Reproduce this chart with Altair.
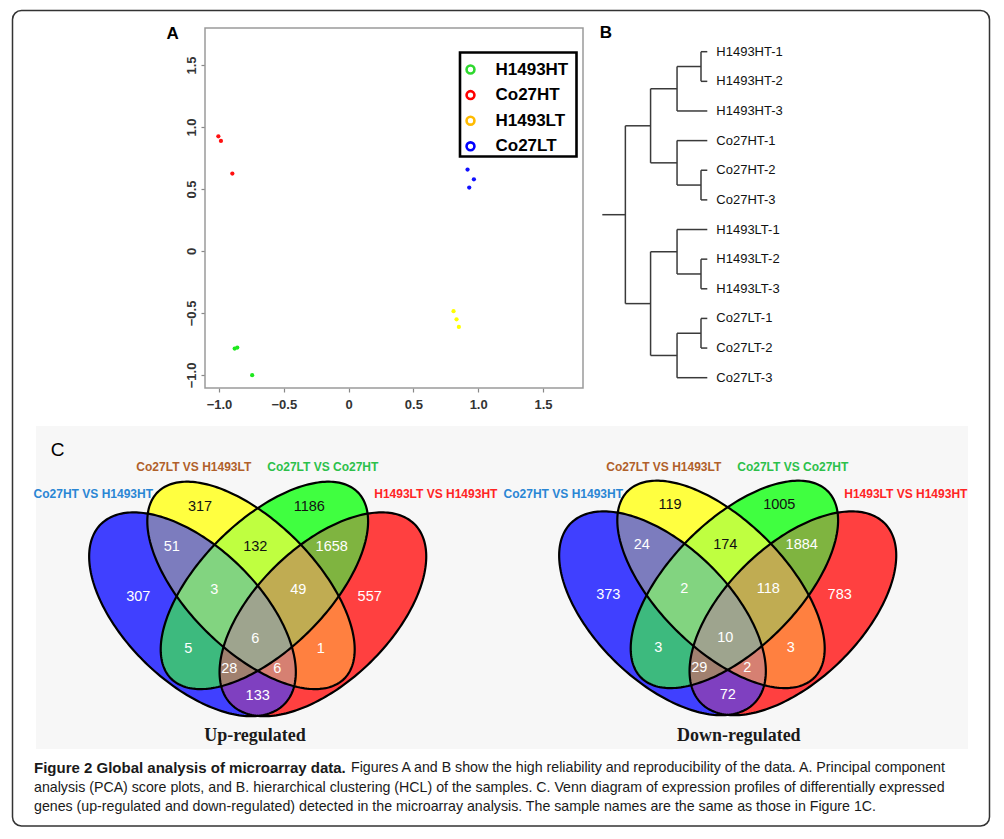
import numpy as np
import pandas as pd
import altair as alt

# ------------------------------------------------------------------ DATA
# Panel A: PCA scores
pca_group = ["Co27HT"] * 3 + ["Co27LT"] * 3 + ["H1493LT"] * 3 + ["H1493HT"] * 3
pca_pc1 = [-1.005, -0.985, -0.897, 0.918, 0.967, 0.931, 0.810, 0.833, 0.851, -0.879, -0.859, -0.744]
pca_pc2 = [0.925, 0.887, 0.624, 0.656, 0.578, 0.511, -0.486, -0.551, -0.613, -0.787, -0.779, -1.002]
pca_ticks = [-1.0, -0.5, 0.0, 0.5, 1.0, 1.5]
legend_groups = ["H1493HT", "Co27HT", "H1493LT", "Co27LT"]

# Panel B: hierarchical clustering
leaf_labels = ["H1493HT-1", "H1493HT-2", "H1493HT-3", "Co27HT-1", "Co27HT-2", "Co27HT-3",
               "H1493LT-1", "H1493LT-2", "H1493LT-3", "Co27LT-1", "Co27LT-2", "Co27LT-3"]
# (child a, child b, merge height); leaves 0..11, merged nodes numbered 12, 13, ...
merges = [(0, 1, 0.05), (12, 2, 0.24), (4, 5, 0.05), (3, 14, 0.24), (13, 15, 0.45),
          (7, 8, 0.05), (6, 17, 0.24), (9, 10, 0.05), (19, 11, 0.24), (18, 20, 0.45),
          (16, 21, 0.65)]
root_stem = 0.833

# Panel C: Venn counts; region keys = membership in (Blue, Yellow, Green, Red) sets
set_names = ["Co27HT VS H1493HT", "Co27LT VS H1493LT", "Co27LT VS Co27HT", "H1493LT VS H1493HT"]
region_keys = ["1000", "0100", "0010", "0001", "1100", "0110", "0011", "1110",
               "0111", "1111", "1010", "0101", "1011", "1101", "1001"]
up_counts = [307, 317, 1186, 557, 51, 132, 1658, 3, 49, 6, 5, 1, 28, 6, 133]
down_counts = [373, 119, 1005, 783, 24, 174, 1884, 2, 118, 10, 3, 3, 29, 2, 72]
venn_titles = ["Up-regulated", "Down-regulated"]

caption_bold = "Figure 2 Global analysis of microarray data."
caption_lines = [
    "Figures A and B show the high reliability and reproducibility of the data. A. Principal component",
    "analysis (PCA) score plots, and B. hierarchical clustering (HCL) of the samples. C. Venn diagram of expression profiles of differentially expressed",
    "genes (up-regulated and down-regulated) detected in the microarray analysis. The sample names are the same as those in Figure 1C.",
]

# ------------------------------------------------------------------ STYLE / LAYOUT
W, H = 988, 823
OX, OY = 8, 8
FONT = "Liberation Sans"
point_colors = {"H1493HT": "#1ee81e", "Co27HT": "#ff1010", "H1493LT": "#ffff00", "Co27LT": "#1010ff"}
legend_colors = ["#2ed82e", "#ff0000", "#ffbb00", "#0000ff"]
set_colors = ["#2a86d4", "#b0602a", "#2cc04a", "#ff2424"]
region_fill = {"1000": "#4040ff", "0100": "#ffff40", "0010": "#40ff40", "0001": "#ff4040",
               "1100": "#7c7cbe", "0110": "#bfff40", "0011": "#7fb440", "1110": "#82d480",
               "0111": "#c0ac52", "1111": "#9ea48e", "1010": "#3dba7e", "0101": "#ff8040",
               "1011": "#a0806f", "1101": "#d68072", "1001": "#7f40c0"}
dark_text_regions = {"0100", "0010", "0110"}
# ellipse geometry of the left diagram (pixels): centre x, centre y, semi-major, semi-minor, angle
VENN_CX = 257.7
ell_blue = (192.5, 614.3, 128.5, 67.5, np.radians(44.3))
ell_yellow = (251.0, 585.4, 131.9, 64.1, np.radians(45.0))


def CX(f):
    return alt.X(f"{f}:Q", scale=alt.Scale(domain=[OX, OX + W], range=[0, W], nice=False, zero=False), axis=None)


def CY(f):
    return alt.Y(f"{f}:Q", scale=alt.Scale(domain=[OY, OY + H], range=[0, H], nice=False, zero=False), axis=None)


def text_layer(df, color=None, **mk):
    enc = dict(x=CX("x"), y=CY("y"), text="t:N")
    if color is None:
        enc["color"] = alt.Color("c:N", scale=None)
        ch = alt.Chart(df).mark_text(**mk)
    else:
        ch = alt.Chart(df).mark_text(color=color, **mk)
    return ch.encode(**enc)


layers = []

# outer rounded frame
layers.append(alt.Chart(pd.DataFrame({"a": [0]})).mark_rect(
    fillOpacity=0, stroke="#333333", strokeWidth=1.5, cornerRadius=9).encode(
    x=alt.value(4.5), x2=alt.value(981.5), y=alt.value(2.5), y2=alt.value(818)))

# panel C background
layers.append(alt.Chart(pd.DataFrame({"x": [36], "x2": [968], "y": [426], "y2": [749]})).mark_rect(
    fill="#f7f7f7").encode(x=CX("x"), x2=alt.X2("x2"), y=CY("y"), y2=alt.Y2("y2")))

# ---------------- Panel A: PCA
PX0, PX1, PY0, PY1 = -1.108, 1.809, -1.105, 1.798
PXS = alt.Scale(domain=[PX0, PX1], range=[197, 575], nice=False, zero=False)
PYS = alt.Scale(domain=[PY0, PY1], range=[380, 20], nice=False, zero=False)
lab_expr = "datum.value == 0 ? '0' : format(datum.value, '.1f')"

layers.append(alt.Chart(pd.DataFrame({"x": [PX0], "x2": [PX1], "y": [PY0], "y2": [PY1]})).mark_rect(
    fill="white", stroke="#9a9a9a", strokeWidth=1.5).encode(
    x=alt.X("x:Q", scale=PXS, axis=None), x2=alt.X2("x2"),
    y=alt.Y("y:Q", scale=PYS, axis=None), y2=alt.Y2("y2")))

pca_df = pd.DataFrame({"pc1": pca_pc1, "pc2": pca_pc2, "group": pca_group})
pca_df["col"] = pca_df["group"].map(point_colors)
layers.append(alt.Chart(pca_df).mark_circle(size=18, opacity=1).encode(
    x=alt.X("pc1:Q", scale=PXS, axis=alt.Axis(
        orient="bottom", offset=-443, values=pca_ticks, domain=False, grid=False, ticks=True,
        tickColor="#888888", tickSize=4, tickWidth=1.2, labelFont=FONT, labelFontSize=13,
        labelFontWeight="bold", labelColor="#333333", labelPadding=6, labelExpr=lab_expr,
        labelFlush=False, labelOverlap=False, title=None)),
    y=alt.Y("pc2:Q", scale=PYS, axis=alt.Axis(
        orient="left", offset=-197, values=pca_ticks, domain=False, grid=False, ticks=True,
        tickColor="#888888", tickSize=4, tickWidth=1.2, labelFont=FONT, labelFontSize=13,
        labelFontWeight="bold", labelColor="#333333", labelPadding=3, labelExpr=lab_expr,
        labelAngle=270, labelAlign="center", labelBaseline="bottom",
        labelFlush=False, labelOverlap=False, title=None)),
    color=alt.Color("col:N", scale=None)))

# PCA legend
layers.append(alt.Chart(pd.DataFrame({"x": [460], "x2": [576.5], "y": [52.5], "y2": [156.5]})).mark_rect(
    fill="white", stroke="black", strokeWidth=2.6).encode(
    x=CX("x"), x2=alt.X2("x2"), y=CY("y"), y2=alt.Y2("y2")))
leg_df = pd.DataFrame({"t": legend_groups, "c": legend_colors,
                       "y": [69.5 + i * 25.6 for i in range(len(legend_groups))]})
leg_df["x"] = 470.5
layers.append(alt.Chart(leg_df).mark_point(shape="circle", filled=False, size=62, strokeWidth=2.6, opacity=1).encode(
    x=CX("x"), y=CY("y"), color=alt.Color("c:N", scale=None)))
leg_df2 = leg_df.assign(x=495.5)
layers.append(text_layer(leg_df2, color="black", align="left", baseline="middle", font=FONT,
                         fontSize=17, fontWeight="bold"))

# panel letters
layers.append(text_layer(pd.DataFrame({"t": ["A", "B"], "x": [172.7, 605.8], "y": [33.5, 32.5]}),
                         color="black", align="center", baseline="middle", font=FONT, fontSize=17,
                         fontWeight="bold"))
layers.append(text_layer(pd.DataFrame({"t": ["C"], "x": [57.5], "y": [450]}),
                         color="black", align="center", baseline="middle", font=FONT, fontSize=19))

# ---------------- Panel B: dendrogram
node_h = {i: 0.0 for i in range(len(leaf_labels))}
node_y = {i: float(i) for i in range(len(leaf_labels))}
segs = []
for k, (c1, c2, h) in enumerate(merges):
    nid = len(leaf_labels) + k
    for c in (c1, c2):
        segs.append(dict(x=node_h[c], x2=h, y=node_y[c], y2=node_y[c]))
    segs.append(dict(x=h, x2=h, y=node_y[c1], y2=node_y[c2]))
    node_h[nid] = h
    node_y[nid] = (node_y[c1] + node_y[c2]) / 2
root = len(leaf_labels) + len(merges) - 1
segs.append(dict(x=node_h[root], x2=root_stem, y=node_y[root], y2=node_y[root]))
DXS = alt.Scale(domain=[0, root_stem], range=[699.3, 594.3], nice=False, zero=False)
DYS = alt.Scale(domain=[0, len(leaf_labels) - 1], range=[43.7, 369.7], nice=False, zero=False)
layers.append(alt.Chart(pd.DataFrame(segs)).mark_rule(color="#3a3a3a", strokeWidth=1.5).encode(
    x=alt.X("x:Q", scale=DXS, axis=None), x2=alt.X2("x2"),
    y=alt.Y("y:Q", scale=DYS, axis=None), y2=alt.Y2("y2")))
leaf_df = pd.DataFrame({"t": leaf_labels, "h": 0.0, "i": list(range(len(leaf_labels)))})
layers.append(alt.Chart(leaf_df).mark_text(align="left", baseline="middle", dx=9, font=FONT, fontSize=13,
                                            color="#111111").encode(
    x=alt.X("h:Q", scale=DXS, axis=None), y=alt.Y("i:Q", scale=DYS, axis=None), text="t:N"))


# ---------------- Panel C: Venn diagrams
def mirror(e):
    return (2 * VENN_CX - e[0], e[1], e[2], e[3], np.pi - e[4])


ellipses = [ell_blue, ell_yellow, mirror(ell_yellow), mirror(ell_blue)]


def x_interval(e, yc):
    cx, cy, a, b, phi = e
    c, s = np.cos(phi), np.sin(phi)
    dy = yc - cy
    A = c * c / a ** 2 + s * s / b ** 2
    Bq = 2 * dy * c * s * (1 / a ** 2 - 1 / b ** 2)
    C = dy * dy * (s * s / a ** 2 + c * c / b ** 2) - 1
    disc = Bq * Bq - 4 * A * C
    if disc <= 0:
        return None
    r = np.sqrt(disc)
    return (cx + (-Bq - r) / (2 * A), cx + (-Bq + r) / (2 * A))


venn_shift = [(0.0, 0.0), (470.0, -1.0)]
label_anchor = {"1000": (-119.4, 596.7), "0100": (-57.7, 506.7), "0010": (51.6, 506.7),
                "0001": (112.0, 596.7), "1100": (-86.0, 546.7), "0110": (-2.4, 546.7),
                "0011": (74.0, 546.7), "1110": (-43.4, 590.0), "0111": (40.6, 590.0),
                "1111": (-2.4, 639.3), "1010": (-69.4, 649.3), "0101": (63.0, 649.3),
                "1011": (-28.4, 669.3), "1101": (19.6, 669.3), "1001": (0.0, 696.0)}
set_label_pos = [(93.3, 494.0), (193.8, 466.7), (322.8, 466.7), (435.8, 494.0)]
title_pos = [(255.0, 736.0), (738.8, 736.0)]

fill_rows, outline_rows, num_rows, setlab_rows, title_rows = [], [], [], [], []
for d, (sx, sy) in enumerate(venn_shift):
    counts = up_counts if d == 0 else down_counts
    tops = [e[1] - np.sqrt((e[2] * np.sin(e[4])) ** 2 + (e[3] * np.cos(e[4])) ** 2) for e in ellipses]
    bots = [e[1] + np.sqrt((e[2] * np.sin(e[4])) ** 2 + (e[3] * np.cos(e[4])) ** 2) for e in ellipses]
    for yr in np.arange(np.floor(min(tops)), np.ceil(max(bots)), 1.0):
        yc = yr + 0.5
        ints = [x_interval(e, yc) for e in ellipses]
        bps = sorted(v for iv in ints if iv is not None for v in iv)
        for i in range(len(bps) - 1):
            xm = (bps[i] + bps[i + 1]) / 2
            key = "".join("1" if (iv is not None and iv[0] < xm < iv[1]) else "0" for iv in ints)
            if key != "0000":
                fill_rows.append(dict(x=bps[i] + sx, x2=bps[i + 1] + sx, y=yr + sy, y2=yr + 1.25 + sy,
                                      c=region_fill[key]))
    t = np.linspace(0, 2 * np.pi, 241)
    for k, (cx, cy, a, b, phi) in enumerate(ellipses):
        xs = cx + a * np.cos(t) * np.cos(phi) - b * np.sin(t) * np.sin(phi)
        ys = cy + a * np.cos(t) * np.sin(phi) + b * np.sin(t) * np.cos(phi)
        for j in range(len(t)):
            outline_rows.append(dict(x=xs[j] + sx, y=ys[j] + sy, eid=f"{d}-{k}", o=j))
    for key, n in zip(region_keys, counts):
        dx, yy = label_anchor[key]
        num_rows.append(dict(t=str(n), x=VENN_CX + dx + sx, y=yy + sy * 1.5,
                             c="#111111" if key in dark_text_regions else "#ffffff"))
    for k, nm in enumerate(set_names):
        setlab_rows.append(dict(t=nm, x=set_label_pos[k][0] + sx, y=set_label_pos[k][1], c=set_colors[k]))
    title_rows.append(dict(t=venn_titles[d], x=title_pos[d][0], y=title_pos[d][1]))

layers.append(alt.Chart(pd.DataFrame(fill_rows)).mark_rect(strokeWidth=0).encode(
    x=CX("x"), x2=alt.X2("x2"), y=CY("y"), y2=alt.Y2("y2"), fill=alt.Fill("c:N", scale=None)))
layers.append(alt.Chart(pd.DataFrame(outline_rows)).mark_line(color="black", strokeWidth=2.2).encode(
    x=CX("x"), y=CY("y"), detail="eid:N", order="o:Q"))
layers.append(text_layer(pd.DataFrame(num_rows), align="center", baseline="middle", font=FONT, fontSize=14.5))
layers.append(text_layer(pd.DataFrame(setlab_rows), align="center", baseline="middle", font=FONT,
                         fontSize=12, fontWeight="bold"))
layers.append(text_layer(pd.DataFrame(title_rows), color="#1a1a1a", align="center", baseline="middle",
                         font="Liberation Serif", fontSize=18, fontWeight="bold"))

# ---------------- caption
layers.append(text_layer(pd.DataFrame({"t": [caption_bold], "x": [34], "y": [768]}), color="#1a1a1a",
                         align="left", baseline="middle", font=FONT, fontSize=15, fontWeight="bold"))
cap_df = pd.DataFrame({"t": caption_lines, "x": [351, 34, 34], "y": [768, 787.5, 806.5]})
layers.append(text_layer(cap_df, color="#1a1a1a", align="left", baseline="middle", font=FONT, fontSize=14.2))

chart = alt.layer(*layers).resolve_scale(x="independent", y="independent").properties(
    width=W, height=H, padding=0, background="white",
    autosize=alt.AutoSizeParams(type="none")).configure_view(stroke=None)

chart.save("out.html", embed_options={"renderer": "svg", "actions": False})
